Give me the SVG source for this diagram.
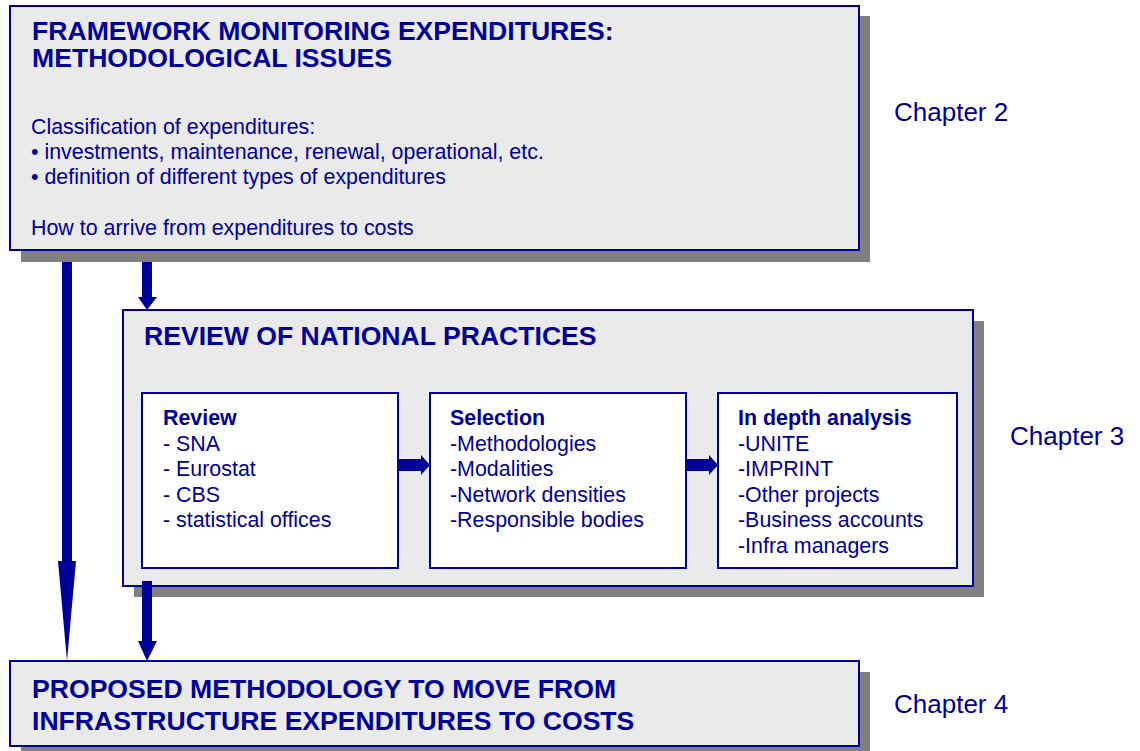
<svg xmlns="http://www.w3.org/2000/svg" width="1140" height="751" viewBox="0 0 1140 751">
<style>
.shadow{fill:#808080}
.box{fill:#EAEAEA;stroke:#000099;stroke-width:2}
.inner{fill:#FFFFFF;stroke:#000099;stroke-width:2}
.title{font-family:"Liberation Sans",Arial,sans-serif;font-weight:bold;font-size:26.6px;fill:#000099}
.body{font-family:"Liberation Sans",Arial,sans-serif;font-size:21.4px;fill:#000099}
.bold{font-weight:bold}
.chap{font-family:"Liberation Sans",Arial,sans-serif;font-size:26px;fill:#000099}
.arrow{fill:#000099}
</style>
<rect width="1140" height="751" fill="#FFFFFF"/>

<g id="node-framework">
<rect class="shadow" x="21" y="16" width="849" height="246"/>
<rect class="box" x="10" y="6" width="849" height="244"/>
<text class="title" x="32" y="39.5">FRAMEWORK MONITORING EXPENDITURES:</text>
<text class="title" x="32" y="66.5">METHODOLOGICAL ISSUES</text>
<text class="body" x="31" y="134">Classification of expenditures:</text>
<text class="body" x="31" y="159">• investments, maintenance, renewal, operational, etc.</text>
<text class="body" x="31" y="184">• definition of different types of expenditures</text>
<text class="body" x="31" y="235">How to arrive from expenditures to costs</text>
</g>

<g id="node-review-national">
<rect class="shadow" x="134" y="321" width="850" height="276"/>
<rect class="box" x="123" y="310" width="850" height="276"/>
<text class="title" x="144" y="345">REVIEW OF NATIONAL PRACTICES</text>
</g>

<g id="node-review">
<rect class="inner" x="142" y="393" width="256" height="175"/>
<text class="body bold" x="163" y="425">Review</text>
<text class="body" x="163" y="451">- SNA</text>
<text class="body" x="163" y="476">- Eurostat</text>
<text class="body" x="163" y="502">- CBS</text>
<text class="body" x="163" y="527">- statistical offices</text>
</g>

<g id="node-selection">
<rect class="inner" x="430" y="393" width="256" height="175"/>
<text class="body bold" x="450" y="425">Selection</text>
<text class="body" x="450" y="451">-Methodologies</text>
<text class="body" x="450" y="476">-Modalities</text>
<text class="body" x="450" y="502">-Network densities</text>
<text class="body" x="450" y="527">-Responsible bodies</text>
</g>

<g id="node-indepth">
<rect class="inner" x="718" y="393" width="239" height="175"/>
<text class="body bold" x="738" y="425">In depth analysis</text>
<text class="body" x="738" y="451">-UNITE</text>
<text class="body" x="738" y="476">-IMPRINT</text>
<text class="body" x="738" y="502">-Other projects</text>
<text class="body" x="738" y="527">-Business accounts</text>
<text class="body" x="738" y="553">-Infra managers</text>
</g>

<g id="node-proposed">
<rect class="shadow" x="21" y="672" width="849" height="85"/>
<rect class="box" x="10" y="661" width="849" height="85"/>
<text class="title" x="32" y="698">PROPOSED METHODOLOGY TO MOVE FROM</text>
<text class="title" x="32" y="730">INFRASTRUCTURE EXPENDITURES TO COSTS</text>
</g>

<g id="labels">
<text class="chap" x="894" y="121">Chapter 2</text>
<text class="chap" x="1010" y="445">Chapter 3</text>
<text class="chap" x="894" y="713">Chapter 4</text>
</g>

<g id="connectors">
<polygon class="arrow" points="62,262 72,262 72,561 76,561 67,661 58,561 62,561"/>
<polygon class="arrow" points="142,262 152,262 152,297 157,297 147,310 138,297 142,297"/>
<polygon class="arrow" points="142,581 152,581 152,641 157,641 147,661 138,641 142,641"/>
<polygon class="arrow" points="398,459 421,459 421,455 430,465 421,475 421,471 398,471"/>
<polygon class="arrow" points="686,459 709,459 709,455 718,465 709,475 709,471 686,471"/>
</g>
</svg>
